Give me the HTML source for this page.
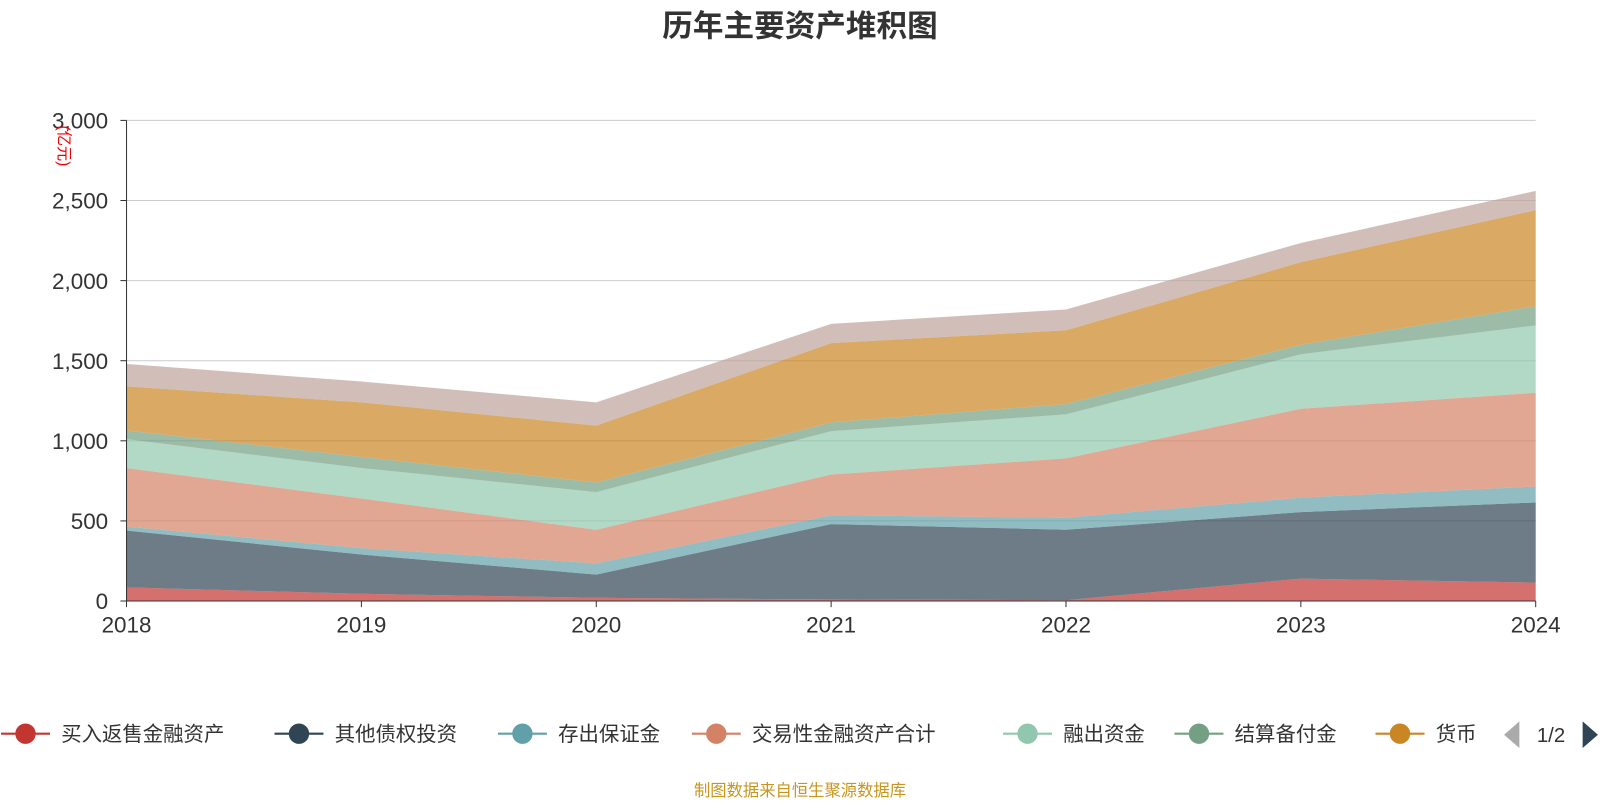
<!DOCTYPE html>
<html><head><meta charset="utf-8"><style>
body{margin:0;background:#fff;}
svg text{font-family:"Liberation Sans","Noto Sans CJK SC",sans-serif;}
</style></head><body>
<svg width="1600" height="800" xmlns="http://www.w3.org/2000/svg">
<g id="chart" transform="scale(1.0204)">
<text x="784" y="36" text-anchor="middle" font-size="30" font-weight="bold" fill="#333">历年主要资产堆积图</text>
<g id="grid"></g><g id="areas"></g><g id="axes"></g><g id="legend"></g>
<text transform="translate(58,143) rotate(90)" text-anchor="middle" font-size="15" fill="#e00">(亿元)</text>
<text x="784" y="780" text-anchor="middle" font-size="16" fill="#c8961e">制图数据来自恒生聚源数据库</text>
</g>
</svg>
<script>
const years=['2018','2019','2020','2021','2022','2023','2024'];
const seriesNames=['买入返售金融资产','其他债权投资','存出保证金','交易性金融资产合计','融出资金','结算备付金','货币','其他'];
const s0=[85,45,20,10,5,140,115];
const s1=[355,245,145,470,440,415,500];
const s2=[25,40,70,55,75,90,100];
const s3=[365,310,210,255,370,555,585];
const s4=[180,190,235,270,275,340,420];
const s5=[55,70,60,55,65,60,120];
const s6=[275,340,355,495,460,515,600];
const s7=[140,130,145,120,130,120,120];
const yTicks=[0,500,1000,1500,2000,2500,3000];
const series=[s0,s1,s2,s3,s4,s5,s6,s7];
const colors=['#c23531','#2f4554','#61a0a8','#d48265','#91c7ae','#749f83','#ca8622','#bda29a'];
const NS='http://www.w3.org/2000/svg';
const x0=124,x1=1505,yb=589,yt=118,ymax=3000;
const X=i=>x0+(x1-x0)*i/(years.length-1);
const Y=v=>yb-(yb-yt)*v/ymax;
function mk(t,a,p){const e=document.createElementNS(NS,t);for(const k in a)e.setAttribute(k,a[k]);(p||document.getElementById('chart')).appendChild(e);return e;}
const grid=document.getElementById('grid'),axes=document.getElementById('axes'),areas=document.getElementById('areas'),leg=document.getElementById('legend');
yTicks.forEach(v=>{
 const l=mk('line',{x1:x0,x2:x1,y1:Y(v),y2:Y(v),stroke:'#ccc'},grid);
 
 
 const t=mk('text',{x:106,y:Y(v)+8,'text-anchor':'end','font-size':22,fill:'#333'},axes);
 t.textContent=v.toLocaleString('en-US');
 
 
 mk('line',{x1:x0-6,x2:x0,y1:Y(v),y2:Y(v),stroke:'#333'},axes);
});
let base=years.map(()=>0);
series.forEach((s,k)=>{
 const top=base.map((b,i)=>b+s[i]);
 let d='M'+top.map((v,i)=>X(i)+','+Y(v)).join('L');
 for(let i=years.length-1;i>=0;i--)d+='L'+X(i)+','+Y(base[i]);
 const p=mk('path',{d:d+'Z',fill:colors[k],'fill-opacity':0.7,stroke:'none'},areas);
 
 
 base=top;
});
mk('line',{x1:x0,x2:x0,y1:yt,y2:yb,stroke:'#333'},axes);
mk('line',{x1:x0,x2:x1,y1:yb,y2:yb,stroke:'#333'},axes);
years.forEach((y,i)=>{
 mk('line',{x1:X(i),x2:X(i),y1:yb,y2:yb+6,stroke:'#333'},axes);
 const t=mk('text',{x:X(i),y:620,'text-anchor':'middle','font-size':22,fill:'#333'},axes);
 t.textContent=y;
 
 
});
const lx=[25,293,512,702,1007,1175,1372];
for(let k=0;k<7;k++){
 const g=mk('g',{},leg);
 
 
 mk('line',{x1:lx[k]-24,x2:lx[k]+24,y1:719,y2:719,stroke:colors[k],'stroke-width':2},g);
 mk('circle',{cx:lx[k],cy:719,r:10,fill:colors[k]},g);
 const t=mk('text',{x:lx[k]+35,y:726,'font-size':20,fill:'#333'},g);
 t.textContent=seriesNames[k];
}
const pa=mk('path',{d:'M1489,707 L1489,733 L1474,720 Z',fill:'#aaa'},leg);


const pt=mk('text',{x:1520,y:727,'text-anchor':'middle','font-size':20,fill:'#333'},leg);pt.textContent='1/2';


const na=mk('path',{d:'M1551,707 L1551,733 L1566,720 Z',fill:'#2f4554'},leg);


</script>
</body></html>
